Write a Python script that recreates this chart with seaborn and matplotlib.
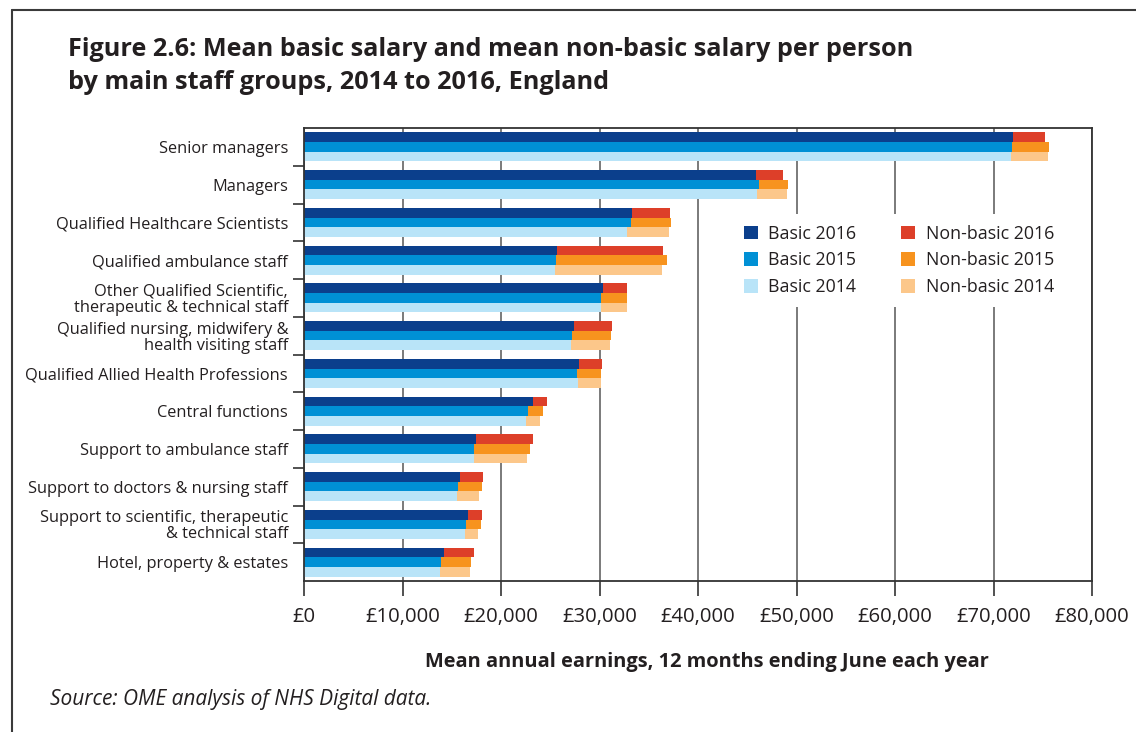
import matplotlib
matplotlib.use("Agg")
import matplotlib.pyplot as plt
import seaborn as sns
import pandas as pd
import numpy as np
from matplotlib.patches import Patch
from matplotlib.lines import Line2D
from matplotlib.ticker import FuncFormatter, FixedLocator

# ---------------- data ----------------
categories = [
    "Senior managers",
    "Managers",
    "Qualified Healthcare Scientists",
    "Qualified ambulance staff",
    "Other Qualified Scientific,\ntherapeutic & technical staff",
    "Qualified nursing, midwifery &\nhealth visiting staff",
    "Qualified Allied Health Professions",
    "Central functions",
    "Support to ambulance staff",
    "Support to doctors & nursing staff",
    "Support to scientific, therapeutic\n& technical staff",
    "Hotel, property & estates",
]
years = ["2016", "2015", "2014"]
basic_2016 = [72000, 45900, 33300, 25700, 30400, 27400, 27900, 23200, 17500, 15800, 16700, 14200]
nonbasic_2016 = [3200, 2700, 3900, 10700, 2400, 3900, 2400, 1500, 5700, 2400, 1400, 3100]
basic_2015 = [71900, 46200, 33200, 25600, 30200, 27200, 27700, 22700, 17300, 15600, 16400, 13900]
nonbasic_2015 = [3700, 2900, 4100, 11300, 2600, 4000, 2500, 1600, 5600, 2500, 1600, 3100]
basic_2014 = [71800, 46000, 32800, 25500, 30200, 27100, 27800, 22500, 17300, 15500, 16300, 13800]
nonbasic_2014 = [3700, 3000, 4300, 10800, 2600, 4000, 2400, 1500, 5300, 2300, 1400, 3100]
x_ticks = [0, 10000, 20000, 30000, 40000, 50000, 60000, 70000, 80000]

basic_colors = ["#0b3f8c", "#0090d5", "#b9e4f8"]
nonbasic_colors = ["#dd3f29", "#f7931e", "#fcc78a"]

rows = []
for yr, b, nb in [("2016", basic_2016, nonbasic_2016),
                  ("2015", basic_2015, nonbasic_2015),
                  ("2014", basic_2014, nonbasic_2014)]:
    for c, bv, nv in zip(categories, b, nb):
        rows.append({"group": c, "year": yr, "basic": bv, "nonbasic": nv, "total": bv + nv})
df = pd.DataFrame(rows)

# ---------------- figure ----------------
sns.set_theme(style="white")
plt.rcParams["font.family"] = ["Open Sans", "DejaVu Sans"]
TXT = "#231f20"

fig = plt.figure(figsize=(11.36, 7.32), dpi=100)
ax = fig.add_axes([304 / 1136, 1 - 581 / 732, (1092 - 304) / 1136, (581 - 128) / 732])

ax.set_axisbelow(True)
ax.xaxis.grid(True, color="#6f6f6f", linewidth=1.3)
ax.yaxis.grid(False)

# totals (non-basic colours), then basic on top -> stacked look
sns.barplot(data=df, y="group", x="total", hue="year", hue_order=years,
            palette=nonbasic_colors, order=categories, orient="h",
            width=0.77, saturation=1, linewidth=0, errorbar=None,
            legend=False, ax=ax)
sns.barplot(data=df, y="group", x="basic", hue="year", hue_order=years,
            palette=basic_colors, order=categories, orient="h",
            width=0.77, saturation=1, linewidth=0, errorbar=None,
            legend=False, ax=ax)

ax.set_xlim(0, 80000)
ax.set_ylim(len(categories) - 0.5, -0.5)
ax.set_xlabel("")
ax.set_ylabel("")

ax.set_xticks(x_ticks)
ax.xaxis.set_major_formatter(FuncFormatter(lambda v, p: "£{:,.0f}".format(v)))
ax.tick_params(axis="x", which="major", direction="out", length=11, width=1.2,
               color="#333333", labelsize=14.6, labelcolor=TXT, pad=8, bottom=True)

ax.set_yticks(range(len(categories)))
ax.set_yticklabels(categories, fontsize=11.8, color=TXT, linespacing=1.0)
ax.tick_params(axis="y", which="major", length=0, pad=11.5, left=True)
ax.yaxis.set_minor_locator(FixedLocator(np.arange(0.5, len(categories) - 1, 1.0)))
ax.tick_params(axis="y", which="minor", direction="out", length=8, width=1.2,
               color="#333333", left=True)

for s in ax.spines.values():
    s.set_visible(True)
    s.set_color("#333333")
    s.set_linewidth(1.3)

# legend
handles = [Patch(facecolor=c, edgecolor="none") for c in basic_colors + nonbasic_colors]
labels = ["Basic 2016", "Basic 2015", "Basic 2014",
          "Non-basic 2016", "Non-basic 2015", "Non-basic 2014"]
leg = ax.legend(handles, labels, ncol=2, loc="upper left",
                bbox_to_anchor=((724 - 304) / 788, 1 - (205 - 128) / 453),
                frameon=True, facecolor="white", edgecolor="none", framealpha=1,
                fontsize=12.8, handlelength=0.8, handleheight=0.8,
                handletextpad=0.6, columnspacing=2.5, labelspacing=0.5,
                borderpad=0.6, fancybox=False)
for t in leg.get_texts():
    t.set_color(TXT)

# titles and texts
fig.text(68 / 1136, 1 - 37 / 732,
         "Figure 2.6: Mean basic salary and mean non-basic salary per person\n"
         "by main staff groups, 2014 to 2016, England",
         ha="left", va="top", fontsize=18.2, fontweight="bold", color=TXT,
         linespacing=1.42)
fig.text(707 / 1136, 1 - 662 / 732,
         "Mean annual earnings, 12 months ending June each year",
         ha="center", va="center", fontsize=14.4, fontweight="bold", color=TXT)
fig.text(50 / 1136, 1 - 700 / 732, "Source: OME analysis of NHS Digital data.",
         ha="left", va="center", fontsize=15, fontstyle="italic", color=TXT)

# outer frame (left and top lines)
fig.add_artist(Line2D([12 / 1136, 12 / 1136], [0, 1 - 10 / 732],
                      transform=fig.transFigure, color="#3a3a3a", linewidth=1.5))
fig.add_artist(Line2D([12 / 1136, 1], [1 - 10 / 732, 1 - 10 / 732],
                      transform=fig.transFigure, color="#3a3a3a", linewidth=1.5))

fig.savefig("out.png", dpi=100)
